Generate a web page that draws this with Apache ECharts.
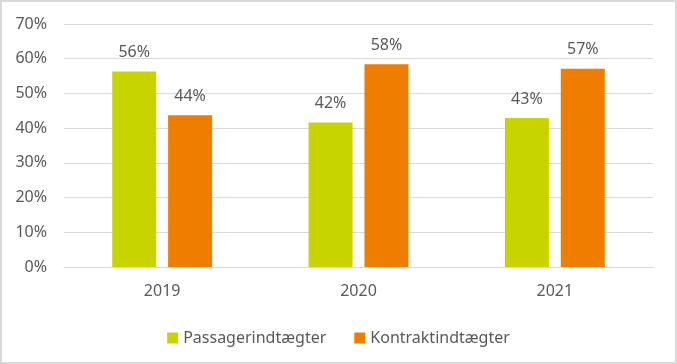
<!DOCTYPE html>
<html>
<head>
<meta charset="utf-8">
<script src="https://cdn.jsdelivr.net/npm/echarts@6/dist/echarts.min.js"></script>
<style>
html,body{margin:0;padding:0;background:#fff;}
#wrap{position:relative;width:677px;height:364px;}
#chart{position:absolute;left:0;top:0;width:677px;height:364px;}
#border{position:absolute;left:0;top:0;width:677px;height:364px;box-sizing:border-box;border:2px solid #d9d9d9;pointer-events:none;}
</style>
</head>
<body>
<div id="wrap"><div id="chart"></div><div id="border"></div></div>
<script>
var categories = ['2019', '2020', '2021'];
var passager = [56.3, 41.6, 42.9];
var kontrakt = [43.7, 58.4, 57.1];
var seriesNames = ['Passagerindtægter', 'Kontraktindtægter'];
var colors = ['#c8d400', '#ef7d00'];

var font = '"Noto Sans", "Open Sans", sans-serif';
var textColor = '#595959';

var chart = echarts.init(document.getElementById('chart'), null, {renderer: 'canvas'});

function makeSeries(name, data, color) {
  return {
    name: name,
    type: 'bar',
    data: data,
    barWidth: 44,
    barGap: '27%',
    itemStyle: {color: color},
    label: {
      show: true,
      position: 'top',
      distance: 11,
      color: textColor,
      fontFamily: font,
      fontSize: 16,
      formatter: function (p) { return Math.round(p.value) + '%'; }
    }
  };
}

chart.setOption({
  animation: false,
  color: colors,
  grid: {left: 64, right: 24, top: 24, bottom: 97, containLabel: false},
  legend: {
    data: seriesNames,
    top: 324,
    left: 'center',
    itemWidth: 11,
    itemHeight: 11,
    itemGap: 28,
    icon: 'rect',
    textStyle: {color: textColor, fontFamily: font, fontSize: 16, lineHeight: 18}
  },
  xAxis: {
    type: 'category',
    data: categories,
    axisLine: {show: true, lineStyle: {color: '#d9d9d9', width: 1}},
    axisTick: {show: false},
    axisLabel: {color: textColor, fontFamily: font, fontSize: 16, margin: 16}
  },
  yAxis: {
    type: 'value',
    min: 0,
    max: 70,
    interval: 10,
    axisLine: {show: false},
    axisTick: {show: false},
    splitLine: {lineStyle: {color: '#d9d9d9', width: 1}},
    axisLabel: {color: textColor, fontFamily: font, fontSize: 16, margin: 17,
      formatter: function (v) { return v + '%'; }}
  },
  series: [
    makeSeries(seriesNames[0], passager, colors[0]),
    makeSeries(seriesNames[1], kontrakt, colors[1])
  ]
});
</script>
</body>
</html>
